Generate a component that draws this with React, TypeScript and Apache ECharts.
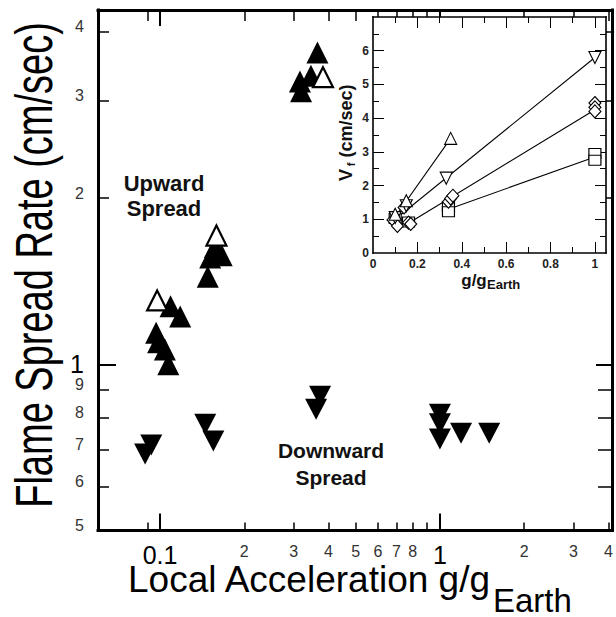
import React, { useEffect, useRef } from "react";
import * as echarts from "echarts";

// ---------- main chart data (g/gEarth, cm/sec) ----------
const upwardFilled: [number, number][] = [
  [0.365, 3.67], [0.346, 3.33], [0.316, 3.25], [0.319, 3.12],
  [0.157, 1.63], [0.166, 1.575], [0.151, 1.56], [0.148, 1.44],
  [0.109, 1.273], [0.118, 1.22], [0.0968, 1.14], [0.0984, 1.096],
  [0.104, 1.064], [0.107, 1.0],
];
const upwardOpen: [number, number][] = [
  [0.382, 3.31], [0.159, 1.71], [0.0976, 1.305],
];
const downward: [number, number][] = [
  [0.093, 0.714], [0.0884, 0.688], [0.145, 0.779], [0.155, 0.726],
  [0.373, 0.875], [0.361, 0.829], [1.0, 0.812], [1.0, 0.78], [1.0, 0.732],
  [1.19, 0.75], [1.5, 0.75],
];
const mainXLabelValues = [0.1, 0.2, 0.3, 0.4, 0.5, 0.6, 0.7, 0.8, 1, 2, 3, 4];
const mainXMajorTicks = [0.1, 1];
const mainXMinorTicks = [0.09, 0.2, 0.3, 0.4, 0.5, 0.6, 0.7, 0.8, 0.9, 2, 3, 4];
const mainYLabelValues = [0.5, 0.6, 0.7, 0.8, 0.9, 1, 2, 3, 4];
const mainYMajorTicks = [1];
const mainYMinorTicks = [0.6, 0.7, 0.8, 0.9, 2, 3, 4];

// ---------- inset data (linear axes) ----------
const insetUpTri: [number, number][] = [[0.1, 1.15], [0.15, 1.55], [0.35, 3.4]];
const insetDownTri: [number, number][] = [[0.1, 1.05], [0.15, 1.4], [0.33, 2.22], [1.0, 5.8]];
const insetDiamond: [number, number][] = [
  [0.09, 0.98], [0.11, 0.8], [0.14, 1.35], [0.16, 0.9], [0.17, 0.86],
  [0.34, 1.52], [0.35, 1.62], [0.36, 1.7], [1.0, 4.45], [1.0, 4.32], [1.0, 4.2],
];
const insetSquare: [number, number][] = [
  [0.1, 1.02], [0.16, 0.92], [0.34, 1.38], [0.34, 1.22], [1.0, 2.95], [1.0, 2.75],
];
const fitUpTri: [number, number][] = [[0.09, 0.98], [0.35, 3.4]];
const fitDownTri: [number, number][] = [[0.1, 1.0], [1.0, 5.8]];
const fitDiamond: [number, number][] = [[0.16, 0.88], [1.0, 4.25]];
const fitSquare: [number, number][] = [[0.34, 1.3], [1.0, 2.85]];
const insetXLabels = [0, 0.2, 0.4, 0.6, 0.8, 1];
const insetXMajor = [0.2, 0.4, 0.6, 0.8, 1];
const insetXMinor = [0.1, 0.3, 0.5, 0.7, 0.9];
const insetYLabels = [0, 1, 2, 3, 4, 5, 6];
const insetYMajor = [1, 2, 3, 4, 5, 6];
const insetYMinor = [0.5, 1.5, 2.5, 3.5, 4.5, 5.5, 6.5];

const FONT = "'Liberation Sans', Arial, Helvetica, sans-serif";

const firstDigit = (v: number) => {
  const e = Math.floor(Math.log10(v) + 1e-9);
  return Math.round(v / Math.pow(10, e));
};
const isBig = (v: number) => Math.abs(v - 0.1) < 1e-6 || Math.abs(v - 1) < 1e-6;

type AxOpts = {
  grid: number;
  type: "log" | "value";
  position: string;
  min: number;
  max: number;
  line?: number;
  ticks?: number[];
  tickLen?: number;
  tickWidth?: number;
  label?: any;
  z?: number;
};
function makeAxis(o: AxOpts) {
  return {
    type: o.type,
    gridIndex: o.grid,
    position: o.position,
    min: o.min,
    max: o.max,
    z: o.z ?? 0,
    splitLine: { show: false },
    axisPointer: { show: false },
    axisLine: {
      show: !!o.line,
      onZero: false,
      lineStyle: { color: "#000", width: o.line || 1, cap: "square" },
    },
    axisTick: o.ticks
      ? {
          show: true,
          inside: true,
          customValues: o.ticks,
          length: o.tickLen,
          lineStyle: { color: "#000", width: o.tickWidth || 1 },
        }
      : { show: false },
    axisLabel: o.label ? o.label : { show: false },
  };
}

export default function App() {
  const ref = useRef<HTMLDivElement>(null);
  useEffect(() => {
    if (!ref.current) return;
    const chart = echarts.init(ref.current, null, { renderer: "svg" });

    const mainXRange = { min: 0.06, max: 4.12 };
    const mainYRange = { min: 0.5, max: 4.38 };
    const insXRange = { min: 0, max: 1.05 };
    const insYRange = { min: 0, max: 7 };

    const mainXLabel = {
      show: true,
      customValues: mainXLabelValues,
      margin: 14,
      formatter: (v: number) => (isBig(v) ? `{big|${Math.abs(v - 1) < 1e-6 ? "1" : "0.1"}}` : `{small|${firstDigit(v)}}`),
      rich: {
        big: { fontSize: 25, lineHeight: 16, padding: [5, 0, 0, 0], color: "#000", fontFamily: FONT },
        small: { fontSize: 16, lineHeight: 14, color: "#333", fontFamily: FONT },
      },
    };
    const mainYLabel = {
      show: true,
      customValues: mainYLabelValues,
      margin: 14,
      formatter: (v: number) => (Math.abs(v - 1) < 1e-6 ? `{big|1}` : `{small|${firstDigit(v)}}`),
      rich: {
        big: { fontSize: 25, color: "#000", fontFamily: FONT },
        small: { fontSize: 16, color: "#333", fontFamily: FONT, padding: [0, 0, 10, 0] },
      },
    };
    const insLabelStyle = { fontSize: 12, fontWeight: "bold", color: "#222", fontFamily: FONT };

    const xAxis = [
      // main grid
      makeAxis({ grid: 0, type: "log", position: "bottom", ...mainXRange, line: 3, ticks: mainXMajorTicks, tickLen: 17, tickWidth: 2, label: mainXLabel }),
      makeAxis({ grid: 0, type: "log", position: "bottom", ...mainXRange, ticks: mainXMinorTicks, tickLen: 8, tickWidth: 1.5 }),
      makeAxis({ grid: 0, type: "log", position: "top", ...mainXRange, line: 3, ticks: mainXMajorTicks, tickLen: 16, tickWidth: 2 }),
      makeAxis({ grid: 0, type: "log", position: "top", ...mainXRange, ticks: mainXMinorTicks, tickLen: 11, tickWidth: 1.5 }),
      // inset grid
      makeAxis({
        grid: 1, type: "value", position: "bottom", ...insXRange, line: 1.6, ticks: insetXMajor, tickLen: 11, tickWidth: 1, z: 4,
        label: { show: true, customValues: insetXLabels, margin: 5, ...insLabelStyle, formatter: (v: number) => String(Math.round(v * 10) / 10) },
      }),
      makeAxis({ grid: 1, type: "value", position: "bottom", ...insXRange, ticks: insetXMinor, tickLen: 6, tickWidth: 1, z: 4 }),
      makeAxis({ grid: 1, type: "value", position: "top", ...insXRange, line: 1.6, ticks: insetXMajor, tickLen: 11, tickWidth: 1, z: 4 }),
      makeAxis({ grid: 1, type: "value", position: "top", ...insXRange, ticks: insetXMinor, tickLen: 6, tickWidth: 1, z: 4 }),
    ];
    const yAxis = [
      makeAxis({ grid: 0, type: "log", position: "left", ...mainYRange, line: 3, ticks: mainYMajorTicks, tickLen: 18, tickWidth: 2, label: mainYLabel }),
      makeAxis({ grid: 0, type: "log", position: "left", ...mainYRange, ticks: mainYMinorTicks, tickLen: 11, tickWidth: 1.5 }),
      makeAxis({ grid: 0, type: "log", position: "right", ...mainYRange, line: 3, ticks: mainYMajorTicks, tickLen: 16, tickWidth: 2 }),
      makeAxis({ grid: 0, type: "log", position: "right", ...mainYRange, ticks: mainYMinorTicks, tickLen: 14, tickWidth: 1.5 }),
      makeAxis({
        grid: 1, type: "value", position: "left", ...insYRange, line: 1.6, ticks: insetYMajor, tickLen: 11, tickWidth: 1, z: 4,
        label: { show: true, customValues: insetYLabels, margin: 4, ...insLabelStyle },
      }),
      makeAxis({ grid: 1, type: "value", position: "left", ...insYRange, ticks: insetYMinor, tickLen: 6, tickWidth: 1, z: 4 }),
      makeAxis({ grid: 1, type: "value", position: "right", ...insYRange, line: 1.6, ticks: insetYMajor, tickLen: 11, tickWidth: 1, z: 4 }),
      makeAxis({ grid: 1, type: "value", position: "right", ...insYRange, ticks: insetYMinor, tickLen: 6, tickWidth: 1, z: 4 }),
    ];

    const fitLine = (data: [number, number][]) => ({
      type: "line",
      xAxisIndex: 4,
      yAxisIndex: 4,
      data,
      symbol: "none",
      z: 5,
      lineStyle: { color: "#000", width: 1.1 },
      silent: true,
    });
    const insetMarks = (data: [number, number][], symbol: string, size: any, rotate = 0) => ({
      type: "scatter",
      xAxisIndex: 4,
      yAxisIndex: 4,
      data,
      symbol,
      symbolSize: size,
      symbolRotate: rotate,
      z: 6,
      itemStyle: { color: "#fff", borderColor: "#000", borderWidth: 1.1, opacity: 1 },
      silent: true,
    });

    chart.setOption({
      animation: false,
      backgroundColor: "#fff",
      textStyle: { fontFamily: FONT },
      grid: [
        { left: 98, top: 10, right: 4, bottom: 86.5, containLabel: false, outerBoundsMode: "none", z: 0 },
        {
          left: 373, top: 17, right: 10, bottom: 364, containLabel: false, outerBoundsMode: "none",
          show: true, backgroundColor: "#fff", borderWidth: 0, z: 3,
        },
      ],
      xAxis,
      yAxis,
      series: [
        {
          type: "scatter", xAxisIndex: 0, yAxisIndex: 0, data: upwardFilled,
          symbol: "triangle", symbolSize: 22, itemStyle: { color: "#000", opacity: 1 }, silent: true, z: 2,
        },
        {
          type: "scatter", xAxisIndex: 0, yAxisIndex: 0, data: upwardOpen,
          symbol: "triangle", symbolSize: 20,
          itemStyle: { color: "#fff", borderColor: "#000", borderWidth: 2.2, opacity: 1 }, silent: true, z: 3,
        },
        {
          type: "scatter", xAxisIndex: 0, yAxisIndex: 0, data: downward,
          symbol: "triangle", symbolRotate: 180, symbolSize: [22, 21],
          itemStyle: { color: "#000", opacity: 1 }, silent: true, z: 2,
        },
        fitLine(fitUpTri),
        fitLine(fitDownTri),
        fitLine(fitDiamond),
        fitLine(fitSquare),
        insetMarks(insetSquare, "rect", [12, 10]),
        insetMarks(insetDiamond, "diamond", [12, 13]),
        insetMarks(insetDownTri, "triangle", 12, 180),
        insetMarks(insetUpTri, "triangle", 12),
      ],
      graphic: [
        {
          type: "text", x: 34, y: 265, rotation: Math.PI / 2, scaleY: 1.36, z: 10,
          style: {
            text: "Flame Spread Rate (cm/sec)", fontSize: 38, fontFamily: FONT, fill: "#000",
            textAlign: "center", textVerticalAlign: "middle",
          },
        },
        {
          type: "text", x: 128, y: 579, z: 10,
          style: { text: "Local Acceleration g/g", fontSize: 37, lineHeight: 24, fontFamily: FONT, fill: "#000", textAlign: "left", textVerticalAlign: "middle" },
        },
        {
          type: "text", x: 493, y: 600, z: 10,
          style: { text: "Earth", fontSize: 33, lineHeight: 24, fontFamily: FONT, fill: "#000", textAlign: "left", textVerticalAlign: "middle" },
        },
        {
          type: "text", x: 164, y: 196, z: 10,
          style: {
            text: "Upward\nSpread", fontSize: 22, lineHeight: 25, fontWeight: "bold", fontFamily: FONT,
            fill: "#111", textAlign: "center", textVerticalAlign: "middle",
          },
        },
        {
          type: "text", x: 331, y: 464, z: 10,
          style: {
            text: "Downward\nSpread", fontSize: 21, lineHeight: 27, fontWeight: "bold", fontFamily: FONT,
            fill: "#111", textAlign: "center", textVerticalAlign: "middle",
          },
        },
        // inset axis titles
        {
          type: "text", x: 346, y: 175, rotation: Math.PI / 2, z: 10,
          style: { text: "V", fontSize: 18, fontWeight: "bold", fontFamily: FONT, fill: "#111", textAlign: "center", textVerticalAlign: "middle" },
        },
        {
          type: "text", x: 351, y: 164.5, rotation: Math.PI / 2, z: 10,
          style: { text: "f", fontSize: 11, fontWeight: "bold", fontFamily: FONT, fill: "#111", textAlign: "center", textVerticalAlign: "middle" },
        },
        {
          type: "text", x: 346, y: 121, rotation: Math.PI / 2, z: 10,
          style: { text: "(cm/sec)", fontSize: 18, fontWeight: "bold", fontFamily: FONT, fill: "#111", textAlign: "center", textVerticalAlign: "middle" },
        },
        {
          type: "text", x: 474, y: 280.5, z: 10,
          style: { text: "g/g", fontSize: 17, fontWeight: "bold", fontFamily: FONT, fill: "#111", textAlign: "center", textVerticalAlign: "middle" },
        },
        {
          type: "text", x: 487, y: 284, z: 10,
          style: { text: "Earth", fontSize: 13, fontWeight: "bold", fontFamily: FONT, fill: "#111", textAlign: "left", textVerticalAlign: "middle" },
        },
      ],
    });
    return () => chart.dispose();
  }, []);
  return (
    <div
      ref={ref}
      style={{ position: "fixed", left: 0, top: 0, width: 616, height: 617, background: "#fff" }}
    />
  );
}
